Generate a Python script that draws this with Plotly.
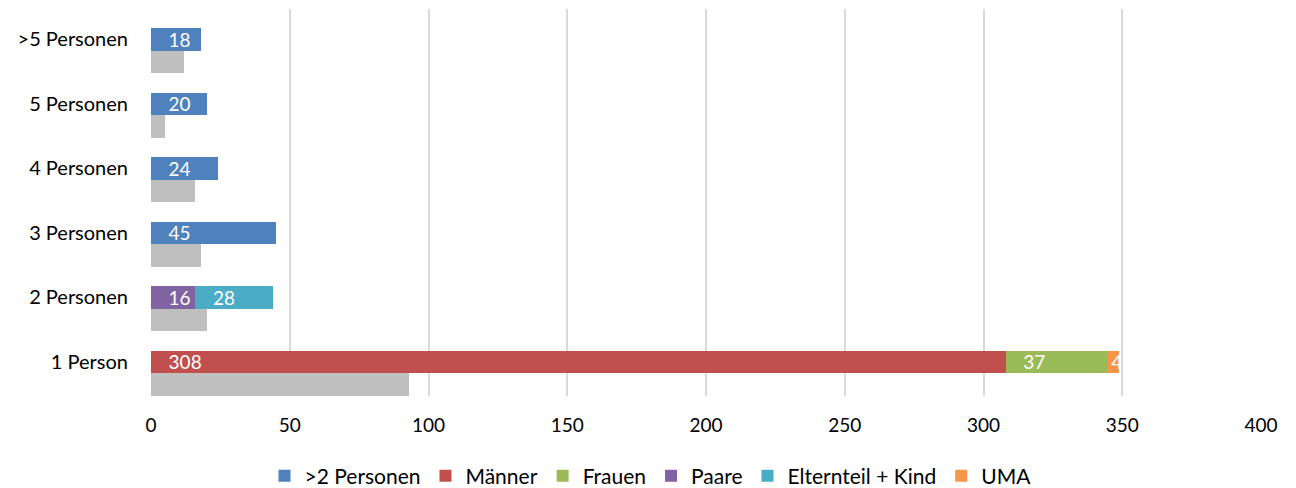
import plotly.graph_objects as go

categories = ["1 Person", "2 Personen", "3 Personen", "4 Personen", "5 Personen", ">5 Personen"]

gt2_personen = [None, None, 45, 24, 20, 18]
maenner = [308, None, None, None, None, None]
frauen = [37, None, None, None, None, None]
paare = [None, 16, None, None, None, None]
elternteil_kind = [None, 28, None, None, None, None]
uma = [4, None, None, None, None, None]
grau = [93, 20, 18, 16, 5, 12]

series = [
    (">2 Personen", gt2_personen, "#4F81BD"),
    ("Männer", maenner, "#C0504D"),
    ("Frauen", frauen, "#9BBB59"),
    ("Paare", paare, "#8064A2"),
    ("Elternteil + Kind", elternteil_kind, "#4BACC6"),
    ("UMA", uma, "#F79646"),
]

FONT = "Lato, 'Open Sans', sans-serif"
pos = list(range(len(categories)))
bar_w = 0.35
pad = "\u00a0\u00a0\u00a0"

fig = go.Figure()
for name, vals, color in series:
    texts = []
    for v in vals:
        if v is None:
            texts.append("")
        elif name == "UMA":
            texts.append(str(v))
        else:
            texts.append(pad + str(v))
    fig.add_trace(go.Bar(
        name=name,
        x=vals,
        y=pos,
        orientation="h",
        width=bar_w,
        marker=dict(color=color, line=dict(width=0)),
        text=texts,
        textposition="inside",
        insidetextanchor="start",
        constraintext="none",
        textfont=dict(color="white", size=19, family=FONT),
        hoverinfo="x+name",
    ))

fig.add_trace(go.Bar(
    name="Vergleich",
    x=grau,
    y=[p - bar_w for p in pos],
    orientation="h",
    width=bar_w,
    marker=dict(color="#BFBFBF", line=dict(width=0)),
    showlegend=False,
    hoverinfo="x",
))

fig.update_layout(
    width=1288,
    height=480,
    barmode="stack",
    plot_bgcolor="white",
    paper_bgcolor="white",
    margin=dict(l=143, r=35, t=1, b=92, autoexpand=False),
    font=dict(family=FONT, size=19, color="#000000"),
    xaxis=dict(
        range=[0, 400],
        dtick=50,
        showgrid=True,
        gridcolor="#D9D9D9",
        gridwidth=2,
        zeroline=False,
        showline=False,
        ticks="outside",
        ticklen=12,
        tickcolor="rgba(0,0,0,0)",
        tickfont=dict(size=19, family=FONT),
        automargin=False,
        fixedrange=True,
    ),
    yaxis=dict(
        range=[-0.53, 5.47],
        tickvals=pos,
        ticktext=categories,
        showgrid=False,
        zeroline=False,
        showline=False,
        ticks="outside",
        ticklen=18,
        tickcolor="rgba(0,0,0,0)",
        tickfont=dict(size=20, family=FONT),
        automargin=False,
        fixedrange=True,
    ),
    legend=dict(
        orientation="h",
        x=0.45,
        xanchor="center",
        y=-0.207,
        yanchor="middle",
        font=dict(size=21, family=FONT),
        traceorder="normal",
        itemclick=False,
    ),
    showlegend=True,
)

fig.write_html("out.html")
